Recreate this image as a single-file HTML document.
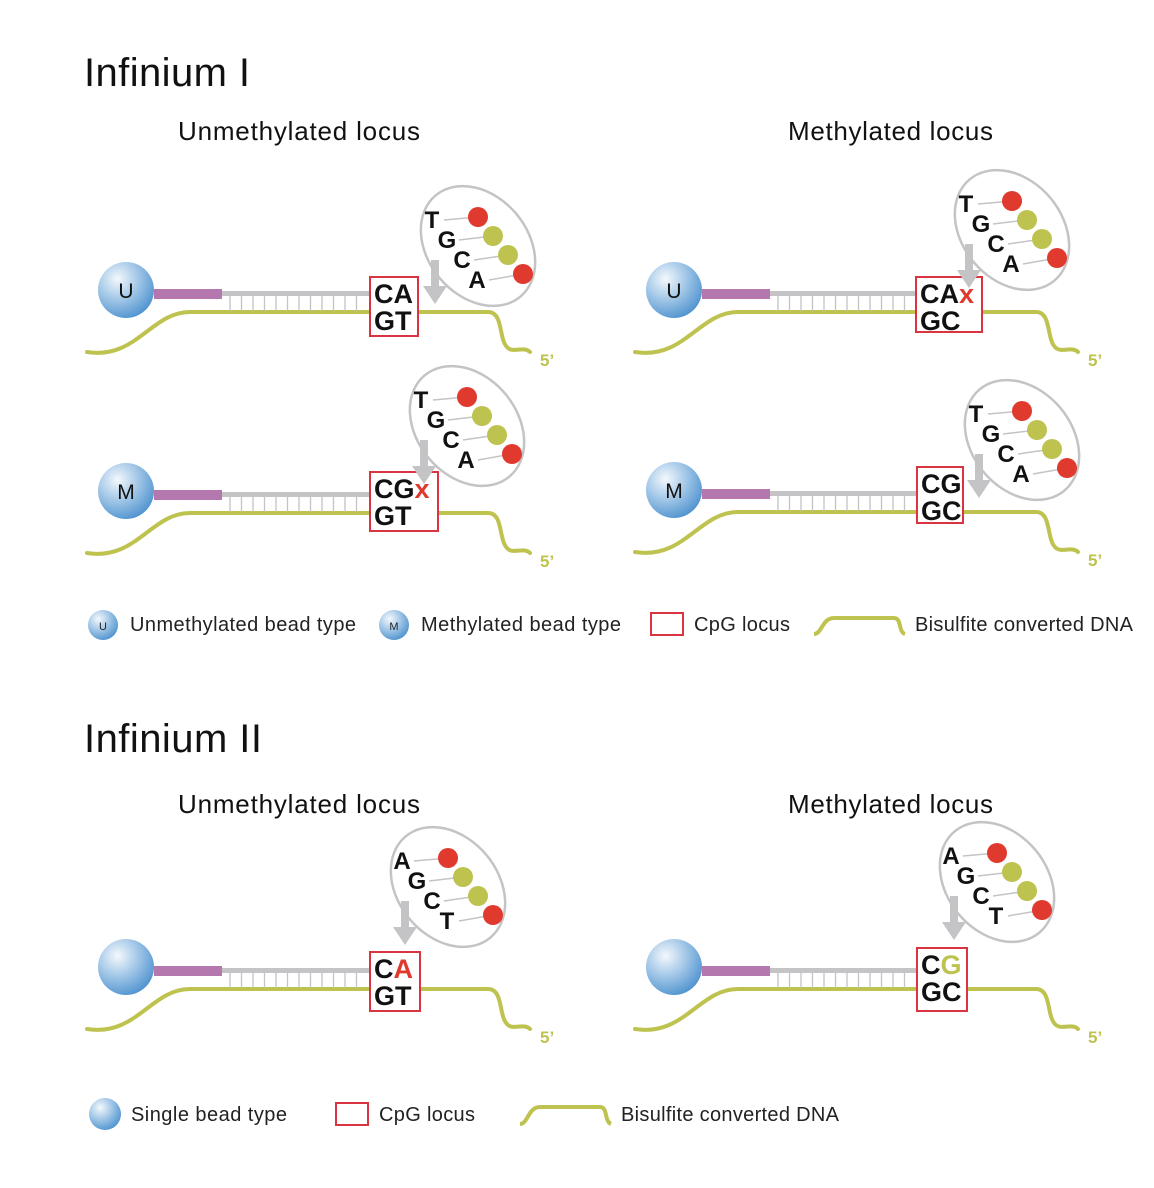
<!DOCTYPE html>
<html><head><meta charset="utf-8"><style>
body{margin:0;background:#fff}
svg{display:block;font-family:"Liberation Sans",Arial,sans-serif}
</style></head><body>
<svg id="s" width="1154" height="1188" viewBox="0 0 1154 1188">
<defs>
<radialGradient id="bead" cx="0.35" cy="0.3" r="0.75">
<stop offset="0" stop-color="#f4f8fc"/><stop offset="0.45" stop-color="#a9cbe9"/><stop offset="1" stop-color="#4f93cf"/>
</radialGradient>
</defs>
<text x="84" y="86" font-size="40" fill="#111" textLength="166">Infinium I</text>
<text x="178" y="140" font-size="26" fill="#111" textLength="242">Unmethylated locus</text>
<text x="788" y="140" font-size="26" fill="#111" textLength="205">Methylated locus</text>
<text x="84" y="752" font-size="40" fill="#111" textLength="178">Infinium II</text>
<text x="178" y="813" font-size="26" fill="#111" textLength="242">Unmethylated locus</text>
<text x="788" y="813" font-size="26" fill="#111" textLength="205">Methylated locus</text>
<g id="panels"></g>
<g id="legend1">
<circle cx="103" cy="625" r="15" fill="url(#bead)"/><text x="103" y="630" font-size="11" text-anchor="middle" fill="#222">U</text>
<text x="130" y="631" font-size="20" fill="#222" textLength="226">Unmethylated bead type</text>
<circle cx="394" cy="625" r="15" fill="url(#bead)"/><text x="394" y="630" font-size="11" text-anchor="middle" fill="#222">M</text>
<text x="421" y="631" font-size="20" fill="#222" textLength="200">Methylated bead type</text>
<rect x="651" y="613" width="32" height="22" fill="none" stroke="#d9343f" stroke-width="2"/>
<text x="694" y="631" font-size="20" fill="#222" textLength="96">CpG locus</text>
<path d="M814 634 C822 634 822 618 834 618 L894 618 C902 618 898 632 905 634" fill="none" stroke="#bec350" stroke-width="4"/>
<text x="915" y="631" font-size="20" fill="#222" textLength="218">Bisulfite converted DNA</text>
</g>
<g id="legend2">
<circle cx="105" cy="1114" r="16" fill="url(#bead)"/>
<text x="131" y="1121" font-size="20" fill="#222" textLength="156">Single bead type</text>
<rect x="336" y="1103" width="32" height="22" fill="none" stroke="#d9343f" stroke-width="2"/>
<text x="379" y="1121" font-size="20" fill="#222" textLength="96">CpG locus</text>
<path d="M520 1124 C528 1124 528 1107 540 1107 L600 1107 C608 1107 604 1121 611 1124" fill="none" stroke="#bec350" stroke-width="4"/>
<text x="621" y="1121" font-size="20" fill="#222" textLength="218">Bisulfite converted DNA</text>
</g>
</svg>
<script>
const NS="http://www.w3.org/2000/svg";
const G="#bec350",R="#e03a2f";
const panelBeads=[[126,290,"U"],[674,290,"U"],[126,491,"M"],[674,490,"M"],[126,967,""],[674,967,""]];
const panelBoxes=[[370,277,48,59],[916,277,66,55],[370,472,68,59],[917,467,46,56],[370,952,50,59],[917,948,50,63]];
const panelTop=[["CA","#111"],["CA","#111","x",R],["CG","#111","x",R],["CG","#111"],["C","#111","A",R],["C","#111","G",G]];
const panelBot=["GT","GC","GT","GC","GT","GC"];
const panelEll=[[478,246],[1012,230],[467,426],[1022,440],[448,887],[997,882]];
const panelLetters=[["T","G","C","A"],["T","G","C","A"],["T","G","C","A"],["T","G","C","A"],["A","G","C","T"],["A","G","C","T"]];
const dotColors=[R,G,G,R];
const root=document.getElementById('panels');
function el(t,a,p){const e=document.createElementNS(NS,t);for(const k in a)e.setAttribute(k,a[k]);(p||root).appendChild(e);return e;}
panelBeads.forEach((b,i)=>{
 const [bx,by,lab]=b,[x,y,w,h]=panelBoxes[i],[ex,ey]=panelEll[i];
 const g=el('g',{});
 
 
 const ly=by+22;
 el('path',{d:`M${bx-39} ${ly+40} C${bx+10} ${ly+48} ${bx+25} ${ly} ${bx+64} ${ly} L${bx+362} ${ly} C${bx+378} ${ly} ${bx+372} ${ly+28} ${bx+382} ${ly+36} C${bx+388} ${ly+41} ${bx+398} ${ly+34} ${bx+404} ${ly+40}`,fill:'none',stroke:G,'stroke-width':4,'stroke-linecap':'round'},g);
 const t5=el('text',{x:bx+414,y:ly+54,'font-size':17,'font-weight':'bold',fill:G},g);t5.textContent="5’";
 el('rect',{x:bx+96,y:by+1,width:x-bx-96,height:5,fill:'#c4c4c6'},g);
 for(let tx=bx+104;tx<x-2;tx+=11.5) el('line',{x1:tx,y1:by+5,x2:tx,y2:ly-1,stroke:'#c4c4c6','stroke-width':1.3},g);
 el('rect',{x:bx+28,y:by-1,width:68,height:10,fill:'#b578ae'},g);
 el('circle',{cx:bx,cy:by,r:28,fill:'url(#bead)'},g);
 if(lab){const t=el('text',{x:bx,y:by+8,'font-size':21,'text-anchor':'middle',fill:'#111'},g);t.textContent=lab;}
 el('rect',{x:x,y:y,width:w,height:h,fill:'#fff',stroke:'#d9343f','stroke-width':2},g);
 const tp=panelTop[i];
 const t1=el('text',{x:x+4,y:y+26,'font-size':27,'font-weight':'bold',fill:tp[1]},g);
 t1.textContent=tp[0];
 if(tp[2]){const s=document.createElementNS(NS,'tspan');s.setAttribute('fill',tp[3]);s.textContent=tp[2];t1.appendChild(s);}
 const t2=el('text',{x:x+4,y:y+53,'font-size':27,'font-weight':'bold',fill:'#111'},g);t2.textContent=panelBot[i];
 el('ellipse',{cx:ex,cy:ey,rx:66,ry:50,transform:`rotate(50 ${ex} ${ey})`,fill:'#fff',stroke:'#c4c4c6','stroke-width':2.5},g);
 const ax=ex-43;
 el('path',{d:`M${ax-4} ${ey+14} L${ax+4} ${ey+14} L${ax+4} ${ey+40} L${ax+12} ${ey+40} L${ax} ${ey+58} L${ax-12} ${ey+40} L${ax-4} ${ey+40}Z`,fill:'#c4c4c6'},g);
 panelLetters[i].forEach((L,k)=>{
  const lx=ex-46+k*15,lyy=ey-18+k*20,dx=ex+k*15,dy=ey-29+k*19;
  el('line',{x1:lx+12,y1:lyy-8,x2:dx,y2:dy,stroke:'#c4c4c6','stroke-width':1.5},g);
  el('circle',{cx:dx,cy:dy,r:10,fill:dotColors[k]},g);
  const t=el('text',{x:lx,y:lyy,'font-size':24,'font-weight':'bold','text-anchor':'middle',fill:'#111'},g);t.textContent=L;
 });
});
</script>
</body></html>
